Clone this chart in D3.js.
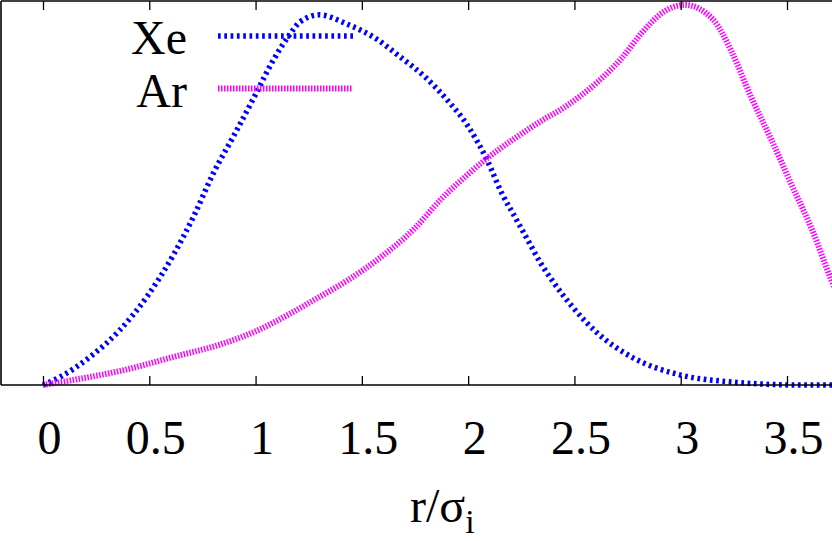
<!DOCTYPE html>
<html>
<head>
<meta charset="utf-8">
<script src="https://cdn.jsdelivr.net/npm/d3@7"></script>
<style>
	body { margin: 0; background: #fff; }
	svg { display: block; }
	text { font-family: "Liberation Serif", "Times New Roman", serif; }
</style>
</head>
<body>
<div id="chart"></div>
<script>
// r/sigma_i positions and normalised distributions
var xeR = [0, 0.08, 0.22, 0.36, 0.49, 0.615, 0.71, 0.80, 0.90, 0.99, 1.085, 1.16, 1.21, 1.30, 1.43, 1.56, 1.68, 1.80, 1.90, 2.0, 2.09, 2.16, 2.22, 2.28, 2.34, 2.40, 2.49, 2.61, 2.77, 3.0, 3.24, 3.56, 3.75];
var xeG = [0, 0.021, 0.073, 0.143, 0.232, 0.342, 0.443, 0.553, 0.655, 0.75, 0.852, 0.917, 0.951, 0.969, 0.945, 0.909, 0.859, 0.805, 0.747, 0.677, 0.588, 0.50, 0.44, 0.38, 0.32, 0.27, 0.205, 0.135, 0.073, 0.026, 0.008, 0.0, 0.0];

var arR = [0, 0.14, 0.38, 0.61, 0.85, 1.01, 1.16, 1.27, 1.43, 1.59, 1.75, 1.87, 2.0, 2.09, 2.22, 2.34, 2.45, 2.61, 2.72, 2.82, 2.92, 3.02, 3.15, 3.24, 3.33, 3.43, 3.52, 3.62, 3.71, 3.75];
var arG = [0, 0.013, 0.039, 0.073, 0.109, 0.143, 0.186, 0.221, 0.273, 0.335, 0.411, 0.485, 0.552, 0.594, 0.646, 0.69, 0.726, 0.794, 0.854, 0.924, 0.977, 0.995, 0.958, 0.872, 0.755, 0.638, 0.526, 0.404, 0.273, 0.221];

var xTicks = [0, 0.5, 1, 1.5, 2, 2.5, 3, 3.5];
var seriesNames = ['Xe', 'Ar'];

(function() {
	'use strict';

	var width = 832, height = 541;
	var left = 1, right = 832, top = 1, bottom = 385;
	var serif = '"Liberation Serif", "Times New Roman", serif';

	var series = [
		{ name: seriesNames[0], r: xeR, g: xeG, color: '#0000ff', thickness: 5.5, dash: '2.7 3.6' },
		{ name: seriesNames[1], r: arR, g: arG, color: '#ff00ff', thickness: 6, dash: '1.5 1.5' }
	];

	var x = d3.scaleLinear().domain([0, 3.5]).range([43, 787]);
	var y = d3.scaleLinear().domain([0, 1]).range([bottom, top + 2]);

	var svg = d3.select('#chart')
		.append('svg')
		.attr('width', width)
		.attr('height', height);

	svg.append('clipPath')
		.attr('id', 'plot-clip')
		.append('rect')
		.attr('x', left)
		.attr('y', 0)
		.attr('width', right - left)
		.attr('height', bottom + 4);

	// Curves
	var line = d3.line()
		.x(function(d) { return x(d[0]); })
		.y(function(d) { return y(d[1]); })
		.curve(d3.curveMonotoneX);

	svg.append('g')
		.attr('clip-path', 'url(#plot-clip)')
		.selectAll('path')
		.data(series)
		.enter()
		.append('path')
		.attr('fill', 'none')
		.attr('stroke', function(d) { return d.color; })
		.attr('stroke-width', function(d) { return d.thickness; })
		.attr('stroke-dasharray', function(d) { return d.dash; })
		.attr('d', function(d) { return line(d.r.map(function(r, i) { return [r, d.g[i]]; })); });

	// Frame
	var frame = svg.append('g')
		.attr('stroke', '#000')
		.attr('stroke-width', 1.6);
	frame.append('line').attr('x1', left).attr('x2', left).attr('y1', top).attr('y2', bottom);
	frame.append('line').attr('x1', left).attr('x2', right).attr('y1', top).attr('y2', top);

	// Bottom axis, ticks pointing up
	var xAxis = svg.append('g')
		.attr('transform', 'translate(0,' + bottom + ')')
		.call(d3.axisBottom(x)
			.tickValues(xTicks)
			.tickSize(-9)
			.tickFormat(function(d) { return String(d); }))
		.attr('font-family', serif)
		.attr('font-size', 48);
	xAxis.select('.domain').remove();
	xAxis.append('line')
		.attr('x1', left).attr('x2', right)
		.attr('stroke', '#000').attr('stroke-width', 1.6);
	xAxis.selectAll('.tick line').attr('stroke-width', 1.3);
	xAxis.selectAll('.tick text')
		.attr('y', 69)
		.attr('dy', 0)
		.attr('dx', 6)
		.attr('fill', '#000')
		.style('font-size', '48px');

	// Top mirror ticks
	var topAxis = svg.append('g')
		.attr('transform', 'translate(0,' + top + ')')
		.call(d3.axisTop(x).tickValues(xTicks).tickSize(-9).tickFormat(''));
	topAxis.select('.domain').remove();
	topAxis.selectAll('.tick line').attr('stroke-width', 1.3);

	// Axis title
	var title = svg.append('text')
		.attr('x', 410)
		.attr('y', 522)
		.style('font-size', '48px')
		.attr('fill', '#000');
	title.append('tspan').text('r/σ');
	title.append('tspan')
		.attr('dy', 11)
		.style('font-size', '34px')
		.text('i');

	// Legend
	var legend = svg.append('g')
		.selectAll('g')
		.data(series)
		.enter()
		.append('g')
		.attr('transform', function(d, i) { return 'translate(0,' + (i * 52.5) + ')'; });

	legend.append('text')
		.attr('x', 187)
		.attr('y', 54)
		.attr('text-anchor', 'end')
		.style('font-size', '48px')
		.attr('fill', '#000')
		.text(function(d) { return d.name; });

	legend.append('line')
		.attr('x1', 218)
		.attr('x2', 353)
		.attr('y1', 36)
		.attr('y2', 36)
		.attr('stroke', function(d) { return d.color; })
		.attr('stroke-width', function(d) { return d.thickness; })
		.attr('stroke-dasharray', function(d) { return d.dash; });
})();
</script>
</body>
</html>
